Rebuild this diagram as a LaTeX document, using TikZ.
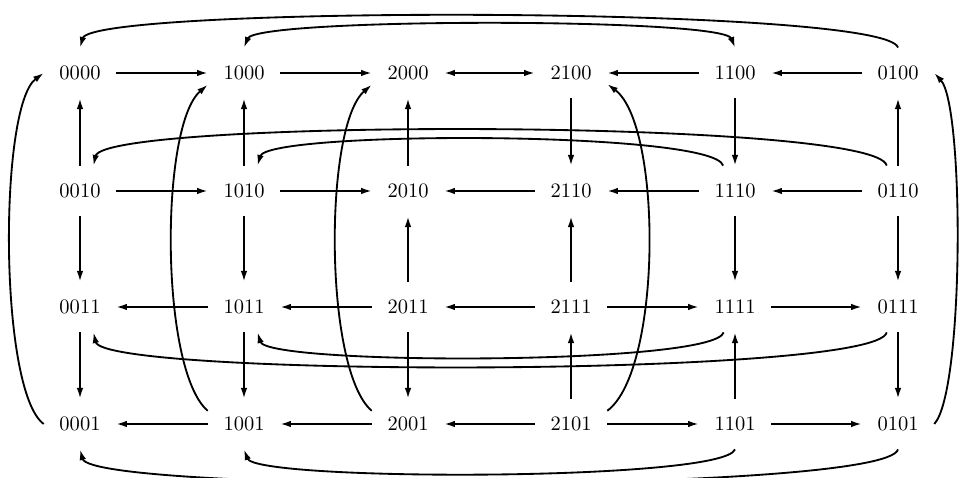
\documentclass[tikz,border=0pt]{standalone}
\usetikzlibrary{arrows.meta}
\begin{document}
\begin{tikzpicture}[x=0.4878pt,y=-0.4878pt,
  state/.style={inner sep=0pt,minimum width=35pt,minimum height=24.4pt},
  link/.style={line width=0.9pt,-{Latex[length=5.2pt,width=3.2pt]}},
  dlink/.style={line width=0.9pt,{Latex[length=5.2pt,width=3.2pt]}-{Latex[length=5.2pt,width=3.2pt]}}]
\useasboundingbox (0,0) rectangle (960,478);
% grid of states
\foreach \lab/\x/\y in {
  0000/80/73, 1000/244/73, 2000/408/73, 2100/571/73, 1100/735/73, 0100/898/73,
  0010/80/191, 1010/244/191, 2010/408/191, 2110/571/191, 1110/735/191, 0110/898/191,
  0011/80/307, 1011/244/307, 2011/408/307, 2111/571/307, 1111/735/307, 0111/898/307,
  0001/80/424, 1001/244/424, 2001/408/424, 2101/571/424, 1101/735/424, 0101/898/424}
  \node[state] (\lab) at (\x,\y) {\lab};
% horizontal transitions
\draw[link] (0000) -- (1000);
\draw[link] (1000) -- (2000);
\draw[dlink] (2000) -- (2100);
\draw[link] (1100) -- (2100);
\draw[link] (0100) -- (1100);
\draw[link] (0010) -- (1010);
\draw[link] (1010) -- (2010);
\draw[link] (2110) -- (2010);
\draw[link] (1110) -- (2110);
\draw[link] (0110) -- (1110);
\draw[link] (1011) -- (0011);
\draw[link] (2011) -- (1011);
\draw[link] (2111) -- (2011);
\draw[link] (2111) -- (1111);
\draw[link] (1111) -- (0111);
\draw[link] (1001) -- (0001);
\draw[link] (2001) -- (1001);
\draw[link] (2101) -- (2001);
\draw[link] (2101) -- (1101);
\draw[link] (1101) -- (0101);
% vertical transitions
\draw[link] (0010) -- (0000);
\draw[link] (0010) -- (0011);
\draw[link] (0011) -- (0001);
\draw[link] (1010) -- (1000);
\draw[link] (1010) -- (1011);
\draw[link] (1011) -- (1001);
\draw[link] (2010) -- (2000);
\draw[link] (2011) -- (2010);
\draw[link] (2011) -- (2001);
\draw[link] (2100) -- (2110);
\draw[link] (2111) -- (2110);
\draw[link] (2101) -- (2111);
\draw[link] (1100) -- (1110);
\draw[link] (1110) -- (1111);
\draw[link] (1101) -- (1111);
\draw[link] (0110) -- (0100);
\draw[link] (0110) -- (0111);
\draw[link] (0111) -- (0101);
% wrap-around transitions, rows
\draw[link] (0100.north) .. controls +(-12,-42) and +(12,-42) .. (0000.north);
\draw[dlink] (1100.north) .. controls +(-12,-30) and +(12,-30) .. (1000.north);
\draw[link] (0110.114) .. controls +(-10,-47) and +(10,-47) .. (0010.62);
\draw[link] (1110.115) .. controls +(-10,-35) and +(10,-35) .. (1010.62);
\draw[link] (0111.246) .. controls +(-10,45) and +(10,45) .. (0011.298);
\draw[link] (1111.246) .. controls +(-10,33) and +(10,33) .. (1011.298);
\draw[link] (0101.south) .. controls +(-12,44) and +(12,44) .. (0001.south);
\draw[link] (1101.south) .. controls +(-12,32) and +(12,32) .. (1001.south);
% wrap-around transitions, columns
\draw[link] (0001.west) .. controls +(-45,-33) and +(-45,33) .. (0000.west);
\draw[link] (1001.160) .. controls +(-48,-41) and +(-48,41) .. (1000.198);
\draw[link] (2001.160) .. controls +(-48,-41) and +(-48,41) .. (2000.198);
\draw[link] (2101.20) .. controls +(55,-41) and +(55,41) .. (2100.343);
\draw[link] (0101.east) .. controls +(30,-33) and +(30,33) .. (0100.east);
\end{tikzpicture}
\end{document}
